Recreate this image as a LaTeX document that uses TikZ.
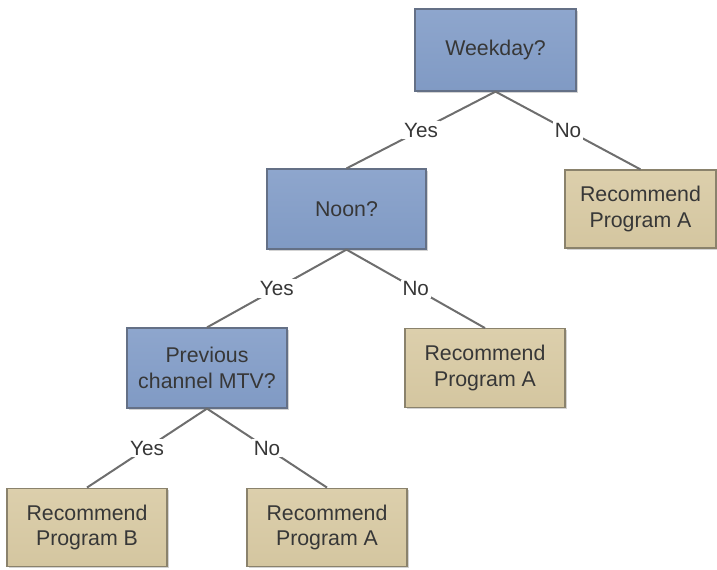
\documentclass[tikz,border=0pt]{standalone}
\usepackage{fontspec}
\setmainfont{Liberation Sans}
\usepackage{xcolor}
\usetikzlibrary{shadows}

\definecolor{qblue}{RGB}{128,154,196}
\definecolor{qbluetop}{RGB}{142,166,205}
\definecolor{qblueedge}{RGB}{100,112,134}
\definecolor{rtan}{RGB}{212,198,160}
\definecolor{rtantop}{RGB}{220,207,172}
\definecolor{rtanedge}{RGB}{138,130,108}
\definecolor{txtgray}{RGB}{55,55,55}
\definecolor{linegray}{RGB}{110,110,110}

\tikzset{
  box/.style={rectangle, draw, line width=0.9pt, align=center, text=txtgray,
    font=\fontsize{16}{19}\selectfont, inner sep=0pt,
    drop shadow={opacity=0.35, shadow xshift=1.2pt, shadow yshift=-1.2pt}},
  question/.style={box, draw=qblueedge, top color=qbluetop, bottom color=qblue,
    minimum width=120pt, minimum height=60pt},
  answer/.style={box, draw=rtanedge, top color=rtantop, bottom color=rtan,
    minimum width=120pt, minimum height=59pt},
  edge/.style={draw=linegray, line width=1.5pt},
  lbl/.style={fill=white, text=txtgray, inner sep=1.5pt,
    font=\fontsize{15.5}{18}\selectfont}
}

\begin{document}
\begin{tikzpicture}[x=0.75pt,y=-0.75pt]
\useasboundingbox (0,0) rectangle (717,569);
% questions
\node[question, minimum width=120.75pt, minimum height=61.5pt] (weekday) at (495.5,50) {Weekday?};
\node[question, minimum width=119.25pt] (noon) at (346.5,209) {Noon?};
\node[question] (mtv) at (207,368) {Previous\\channel MTV?};
% recommendations
\node[answer, minimum width=113.25pt, minimum height=58.5pt] (recA) at (640.5,209) {Recommend\\Program A};
\node[answer] (recAnoon) at (485,368) {Recommend\\Program A};
\node[answer] (recB) at (87,527.5) {Recommend\\Program B};
\node[answer] (recAmtv) at (327,527.5) {Recommend\\Program A};
% branches
\draw[edge] (weekday.south) -- node[lbl]{Yes} (noon.north);
\draw[edge] (weekday.south) -- node[lbl]{No} (recA.north);
\draw[edge] (noon.south) -- node[lbl]{Yes} (mtv.north);
\draw[edge] (noon.south) -- node[lbl]{No} (recAnoon.north);
\draw[edge] (mtv.south) -- node[lbl]{Yes} (recB.north);
\draw[edge] (mtv.south) -- node[lbl]{No} (recAmtv.north);
\end{tikzpicture}
\end{document}
